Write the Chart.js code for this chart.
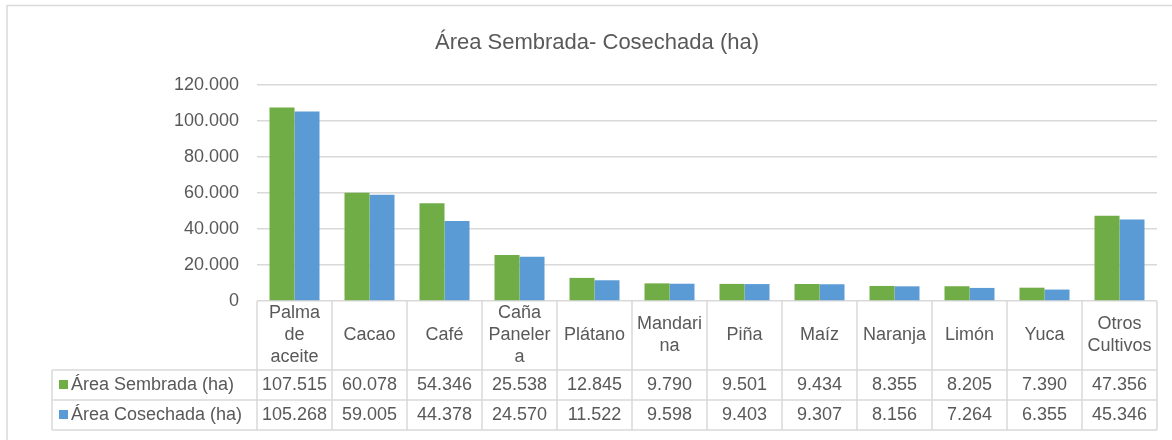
<!DOCTYPE html>
<html lang="es">
<head>
    <meta charset="UTF-8">
    <title>Área Sembrada- Cosechada (ha)</title>
    <style>
        html, body {
            margin: 0;
            background: #ffffff;
        }
        .chart-box {
            position: relative;
            width: 1172px;
            height: 440px;
        }
    </style>
</head>
<body>

<div class="chart-box">
    <canvas id="barChart"></canvas>
</div>

<script src="https://cdn.jsdelivr.net/npm/chart.js"></script>
<script>
    // Data
    const categories = [
        ['Palma', 'de', 'aceite'], 'Cacao', 'Café', ['Caña', 'Paneler', 'a'], 'Plátano',
        ['Mandari', 'na'], 'Piña', 'Maíz', 'Naranja', 'Limón', 'Yuca', ['Otros', 'Cultivos']
    ];
    const sembrada = [107515, 60078, 54346, 25538, 12845, 9790, 9501, 9434, 8355, 8205, 7390, 47356];
    const cosechada = [105268, 59005, 44378, 24570, 11522, 9598, 9403, 9307, 8156, 7264, 6355, 45346];
    const seriesNames = ['Área Sembrada (ha)', 'Área Cosechada (ha)'];
    const yTicks = [0, 20000, 40000, 60000, 80000, 100000, 120000];
    const chartTitle = 'Área Sembrada- Cosechada (ha)';

    const green = '#70AD47';
    const blue = '#5B9BD5';
    const textColor = '#595959';
    const lineColor = '#d9d9d9';
    const fontFamily = '"Liberation Sans", Arial, sans-serif';

    // 107515 -> "107.515"
    function fmt(n) {
        return String(n).replace(/\B(?=(\d{3})+(?!\d))/g, '.');
    }

    // Outer frame + title
    const framePlugin = {
        id: 'frame',
        beforeDraw(chart) {
            const ctx = chart.ctx;
            ctx.save();
            ctx.fillStyle = '#ffffff';
            ctx.fillRect(0, 0, chart.width, chart.height);
            ctx.strokeStyle = lineColor;
            ctx.lineWidth = 1.5;
            ctx.strokeRect(7, 5.5, chart.width + 20, chart.height + 20);
            ctx.fillStyle = textColor;
            ctx.font = '22px ' + fontFamily;
            ctx.textAlign = 'center';
            ctx.textBaseline = 'middle';
            ctx.fillText(chartTitle, 597, 43);
            ctx.restore();
        }
    };

    // Excel-style data table under the plot
    const dataTablePlugin = {
        id: 'dataTable',
        afterDraw(chart) {
            const ctx = chart.ctx;
            const x = chart.scales.x;
            const area = chart.chartArea;
            const n = categories.length;
            const cellW = (area.right - area.left) / n;
            const top = area.bottom;
            const row1 = top + 69;
            const row2 = row1 + 30;
            const bottom = row2 + 30;
            const labelLeft = 52;

            ctx.save();
            ctx.strokeStyle = lineColor;
            ctx.lineWidth = 1.5;
            ctx.beginPath();
            // horizontal lines
            [row1, row2, bottom].forEach(y => {
                ctx.moveTo(labelLeft, y);
                ctx.lineTo(area.right, y);
            });
            // vertical lines at category boundaries
            for (let i = 0; i <= n; i++) {
                const xx = area.left + i * cellW;
                ctx.moveTo(xx, top);
                ctx.lineTo(xx, bottom);
            }
            ctx.moveTo(labelLeft, row1);
            ctx.lineTo(labelLeft, bottom);
            ctx.stroke();

            ctx.fillStyle = textColor;
            ctx.font = '18px ' + fontFamily;
            ctx.textAlign = 'center';
            ctx.textBaseline = 'middle';

            // category headers
            categories.forEach((c, i) => {
                const cx = x.getPixelForValue(i);
                const lines = Array.isArray(c) ? c : [c];
                const lh = 22;
                const cy = (top + row1) / 2 - (lines.length - 1) * lh / 2;
                lines.forEach((t, k) => ctx.fillText(t, cx, cy + k * lh));
            });

            // value rows
            const rows = [sembrada, cosechada];
            const colors = [green, blue];
            rows.forEach((vals, r) => {
                const cy = (r === 0 ? (row1 + row2) : (row2 + bottom)) / 2;
                ctx.textAlign = 'center';
                vals.forEach((v, i) => {
                    ctx.fillText(fmt(v), x.getPixelForValue(i), cy);
                });
                ctx.fillStyle = colors[r];
                ctx.fillRect(59, cy - 5, 9, 9);
                ctx.fillStyle = textColor;
                ctx.textAlign = 'left';
                ctx.fillText(seriesNames[r], 71, cy);
            });
            ctx.restore();
        }
    };

    const barCtx = document.getElementById('barChart').getContext('2d');
    const barChart = new Chart(barCtx, {
        type: 'bar',
        data: {
            labels: categories,
            datasets: [{
                label: seriesNames[0],
                data: sembrada,
                backgroundColor: green,
                categoryPercentage: 2 / 3,
                barPercentage: 1.0
            }, {
                label: seriesNames[1],
                data: cosechada,
                backgroundColor: blue,
                categoryPercentage: 2 / 3,
                barPercentage: 1.0
            }]
        },
        options: {
            responsive: true,
            maintainAspectRatio: false,
            animation: false,
            layout: {
                padding: { top: 85, right: 15, bottom: 139, left: 0 }
            },
            plugins: {
                legend: { display: false },
                title: { display: false },
                tooltip: { enabled: false }
            },
            scales: {
                x: {
                    display: false
                },
                y: {
                    min: 0,
                    max: 120000,
                    afterFit(scale) { scale.width = 257; },
                    afterBuildTicks(scale) {
                        scale.ticks = yTicks.map(v => ({ value: v }));
                    },
                    border: { display: false },
                    grid: { color: lineColor, lineWidth: 1.5, drawTicks: false },
                    ticks: {
                        padding: 18,
                        color: textColor,
                        font: { family: fontFamily, size: 18 },
                        callback: v => fmt(v)
                    }
                }
            }
        },
        plugins: [framePlugin, dataTablePlugin]
    });
</script>
</body>
</html>
